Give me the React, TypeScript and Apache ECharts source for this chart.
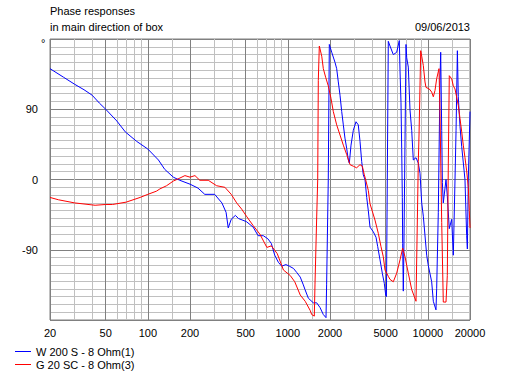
import React, { useEffect, useRef } from "react";
import * as echarts from "echarts";

const titleLine1 = "Phase responses";
const titleLine2 = "in main direction of box";
const dateText = "09/06/2013";
const seriesNames = ["W 200 S - 8 Ohm(1)", "G 20 SC - 8 Ohm(3)"];

const xMajorTicks = [20, 50, 100, 200, 500, 1000, 2000, 5000, 10000, 20000];
const xMinorTicks = [30, 40, 60, 70, 80, 90, 150, 300, 400, 600, 700, 800, 900, 1500, 3000, 4000, 6000, 7000, 8000, 9000, 15000];

const freqW = [20,25,30,35,40,45,50,60,69,83,100,119,132,152,169,200,228,255,300,338,362,375,394,422,444,506,565,613,668,720,762,806,855,904,968,1024,1098,1156,1226,1290,1326,1400,1520,1607,1697,1792,1873,1892,1944,1978,2057,2172,2232,2293,2358,2425,2490,2558,2631,2703,2748,2826,2934,3068,3184,3276,3368,3458,3557,3658,3756,3862,4077,4264,4383,4553,4727,4886,5000,5060,5218,5366,5665,5990,6252,6325,6428,6504,6570,6608,6678,6740,6982,7062,7250,7456,7668,7872,8230,8546,8790,9038,9280,9810,10070,10650,10940,11430,11560,11876,12210,12350,12560,12700,12890,13480,13770,14225,14795,15200,15630,15900,16250,16494,16970,17450,18414,18930,19150,19450,20000];
const phaseW = [142,131,122,115,108,98,90,75,61,49,39,25,13,3,-1,-6,-11,-19,-19,-30,-42,-62,-51,-46,-50,-54,-61,-72,-72,-76,-82,-97,-106,-111,-109,-111,-114,-119,-125,-135,-141,-152,-158,-158,-164,-173,-177,-135,0,173,163,150,142,125,108,87,70,53,40,25,21,44,63,74,70,49,23,6,0,-23,-40,-61,-67,-74,-86,-103,-120,-133,-148,-150,177,171,160,163,178,140,99,40,-23,-82,-143,-92,173,156,144,89,63,25,28,21,8,-30,-47,-97,-110,-131,-156,-167,-140,-42,127,163,63,-4,-30,0,-21,-63,-51,-97,0,63,165,106,68,42,0,-72,-89,0,87];

const freqG = [20,23,30,42,50,56,70,88,100,115,122,136,152,161,184,200,217,235,270,310,355,394,431,468,506,565,631,708,762,840,930,1040,1120,1226,1330,1446,1480,1545,1562,1607,1634,1650,1678,1746,1792,1862,1944,2033,2112,2232,2358,2490,2631,2780,2934,3100,3276,3404,3516,3557,3756,3862,4192,4426,4627,4806,4942,5218,5366,5665,5990,6325,6608,6868,7250,7668,8230,8546,8648,8790,8892,9038,9280,9540,9700,10240,10650,10940,11246,11560,12012,12210,12560,12890,13480,13630,13770,14000,14225,14795,15200,15630,16494,16970,17450,17910,18414,18930,19450,19770,20000];
const phaseG = [-23,-26,-30,-33,-32,-32,-29,-23,-19,-15,-12,-8,-2,0,5,3,5,-1,-1,-8,-10,-19,-30,-38,-47,-59,-70,-87,-85,-95,-116,-123,-131,-148,-156,-168,-173,-175,-135,-48,0,127,171,158,142,131,120,104,87,70,57,44,32,19,17,15,19,17,6,3,-14,-31,-52,-69,-86,-99,-116,-124,-128,-131,-120,-103,-88,-99,-120,-141,-156,23,57,120,165,158,146,125,118,116,112,106,114,129,142,85,-55,-157,-157,-157,-123,21,133,129,120,116,95,78,61,44,28,11,-10,-40,-62];

const FONT = "'Liberation Sans', Arial, sans-serif";

export default function App() {
  const ref = useRef<HTMLDivElement>(null);
  useEffect(() => {
    if (!ref.current) return;
    const chart = echarts.init(ref.current, null, { renderer: "svg" });
    const dataW = freqW.map((f, i) => [f, phaseW[i]]);
    const dataG = freqG.map((f, i) => [f, phaseG[i]]);
    chart.setOption({
      animation: false,
      backgroundColor: "#ffffff",
      textStyle: { fontFamily: FONT },
      grid: {
        left: 50,
        top: 39,
        width: 420,
        height: 281,
        show: true,
        borderColor: "#808080",
        borderWidth: 1,
        backgroundColor: "transparent",
      },
      xAxis: [
        {
          type: "log",
          logBase: 10,
          min: 20,
          max: 20000,
          position: "top",
          axisLine: { show: false },
          axisTick: { show: false, customValues: xMinorTicks },
          axisLabel: { show: false, customValues: xMinorTicks },
          splitLine: { show: true, lineStyle: { color: "#c0c0c0", width: 1 } },
        },
        {
          type: "log",
          logBase: 10,
          min: 20,
          max: 20000,
          position: "bottom",
          axisLine: { show: false },
          axisTick: { show: false, customValues: xMajorTicks },
          axisLabel: {
            customValues: xMajorTicks,
            formatter: (v: number) => String(Math.round(v)),
            color: "#000",
            fontSize: 11,
            fontFamily: FONT,
            margin: 7,
            interval: 0,
            hideOverlap: false,
          },
          splitLine: { show: true, lineStyle: { color: "#808080", width: 1 } },
        },
      ],
      yAxis: {
        type: "value",
        min: -180,
        max: 180,
        interval: 90,
        axisLine: { show: false },
        axisTick: { show: false },
        minorTick: { show: false, splitNumber: 9 },
        minorSplitLine: { show: true, lineStyle: { color: "#c0c0c0", width: 1 } },
        splitLine: { show: true, lineStyle: { color: "#808080", width: 1 } },
        axisLabel: {
          color: "#000",
          fontSize: 11,
          fontFamily: FONT,
          margin: 12,
          formatter: (v: number) => (v === 180 || v === -180 ? "" : String(v)),
        },
      },
      legend: {
        orient: "vertical",
        left: 10,
        top: 340,
        icon: "rect",
        itemWidth: 16,
        itemHeight: 1,
        itemGap: 0,
        textStyle: { fontSize: 11, color: "#000", fontFamily: FONT, lineHeight: 13 },
        data: seriesNames,
      },
      graphic: [
        {
          type: "text",
          x: 50,
          y: 11,
          style: { text: titleLine1, fill: "#000", font: `11px ${FONT}`, verticalAlign: "middle" },
        },
        {
          type: "text",
          x: 50,
          y: 27,
          style: { text: titleLine2, fill: "#000", font: `11px ${FONT}`, verticalAlign: "middle" },
        },
        {
          type: "text",
          x: 470,
          y: 27,
          style: { text: dateText, fill: "#000", font: `11px ${FONT}`, align: "right", verticalAlign: "middle" },
        },
        {
          type: "text",
          x: 41,
          y: 37,
          style: { text: "°", fill: "#000", font: `11px ${FONT}`, verticalAlign: "top" },
        },
      ],
      series: [
        {
          name: seriesNames[0],
          type: "line",
          xAxisIndex: 1,
          data: dataW,
          symbol: "none",
          showSymbol: false,
          lineStyle: { color: "#0000ff", width: 1 },
          itemStyle: { color: "#0000ff" },
        },
        {
          name: seriesNames[1],
          type: "line",
          xAxisIndex: 1,
          data: dataG,
          symbol: "none",
          showSymbol: false,
          lineStyle: { color: "#ff0000", width: 1 },
          itemStyle: { color: "#ff0000" },
        },
      ],
    });
    return () => chart.dispose();
  }, []);
  return (
    <div
      ref={ref}
      style={{ position: "fixed", left: 0, top: 0, width: 518, height: 380, background: "#fff" }}
    />
  );
}
